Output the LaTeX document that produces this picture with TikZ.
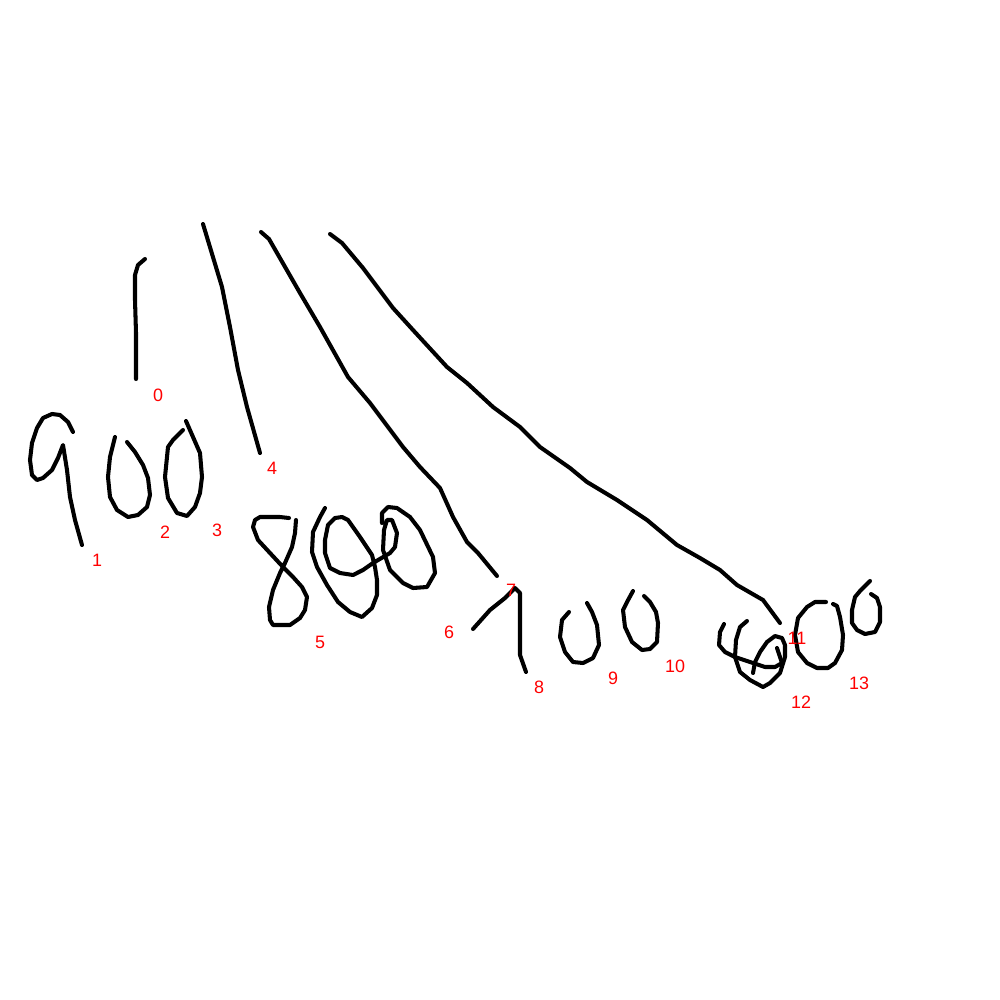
\documentclass[tikz,border=0pt]{standalone}
\usepackage{fontspec}
\setmainfont{Liberation Sans}
\begin{document}
\begin{tikzpicture}[x=0.01cm,y=-0.01cm,
  ink/.style={line width=1.15pt,line join=round,line cap=round,black},
  lbl/.style={text=red,font=\fontsize{5.1}{6}\selectfont,inner sep=0pt}]
\useasboundingbox[fill=white] (0,0) rectangle (1000,1000);
% stroke 0
\draw[ink] (145,259)--(138,265)--(135,275)--(135,300)--(136,333)--(136,379);
% 9
\draw[ink] (73,432)--(68,422)--(60,415)--(52,414)--(43,418)--(37,428)--(32,443)--(30,460)--(32,475)--(37,480)--(43,478)--(52,470)--(58,458)--(63,445)--(67,470)--(70,497)--(75,520)--(82,545);
% 0
\draw[ink] (115,437)--(110,457)--(108,477)--(110,497)--(117,510)--(128,517)--(138,515)--(147,507)--(150,495)--(148,478)--(143,465)--(135,452)--(127,442);
% 0
\draw[ink] (183,430)--(173,440)--(168,447)--(165,477)--(168,498)--(177,513)--(187,516)--(195,507)--(200,493)--(202,477)--(200,453)--(193,437)--(186,421);
% long stroke 4
\draw[ink] (203,224)--(222,287)--(230,327)--(238,370)--(247,407)--(260,453);
% long stroke to 7
\draw[ink] (261,232)--(269,239)--(300,293)--(320,327)--(348,377)--(370,403)--(403,447)--(420,467)--(440,488)--(453,517)--(467,542)--(478,553)--(497,576);
% long stroke to 11
\draw[ink] (330,234)--(342,243)--(363,268)--(393,308)--(413,330)--(447,367)--(467,383)--(493,407)--(520,427)--(540,447)--(570,468)--(587,482)--(617,500)--(647,520)--(677,545)--(700,558)--(720,570)--(737,585)--(763,600)--(780,623);
% 8
\draw[ink] (289,518)--(280,517)--(260,517)--(255,520)--(253,527)--(258,540)--(270,553)--(283,567)--(293,577)--(302,587)--(307,597)--(305,610)--(300,618)--(290,625)--(273,625)--(270,620)--(269,607)--(273,590)--(280,573)--(285,563)--(292,547)--(295,533)--(296,520);
% 00
\draw[ink] (325,508)--(320,517)--(313,532)--(312,552)--(317,567)--(327,585)--(338,602)--(350,612)--(362,617)--(372,608)--(377,595)--(377,580)--(375,567)--(372,555)--(360,537)--(348,520)--(342,517)--(335,518)--(328,525)--(325,540)--(325,553)--(330,568)--(340,573)--(353,575)--(363,570)--(373,563)--(390,553)--(395,547)--(397,533)--(392,520)--(387,520)--(384,530)--(383,550)--(390,570)--(403,583)--(413,588)--(427,587)--(435,573)--(433,557)--(420,530)--(410,517)--(397,508)--(388,507)--(382,513)--(382,523);
% 7
\draw[ink] (473,629)--(490,610)--(505,598)--(515,588)--(520,593)--(520,620)--(520,655)--(526,672);
% 0
\draw[ink] (569,612)--(562,620)--(560,637)--(565,652)--(573,662)--(583,663)--(593,658)--(599,645)--(597,625)--(592,612)--(587,603);
% 0
\draw[ink] (633,591)--(627,602)--(623,610)--(625,627)--(632,642)--(642,650)--(650,649)--(657,642)--(658,623)--(656,612)--(650,602)--(644,596);
% 6 strokes
\draw[ink] (724,624)--(720,632)--(719,645)--(725,652)--(735,657)--(750,662)--(765,667)--(775,667)--(782,663);
\draw[ink] (777,648)--(782,663);
\draw[ink] (747,621)--(740,627)--(736,640)--(735,657)--(740,672)--(750,680)--(763,687)--(770,683)--(780,673)--(785,657)--(785,645)--(782,638)--(775,636)--(767,642)--(760,652)--(755,662)--(753,673);
% 0
\draw[ink] (826,602)--(815,602)--(807,607)--(798,618)--(795,635)--(798,652)--(807,663)--(817,668)--(828,668)--(835,663)--(842,650)--(843,635)--(840,617)--(837,606)--(833,604);
% 0
\draw[ink] (870,581)--(860,591)--(855,597)--(852,610)--(852,623)--(857,630)--(865,634)--(875,632)--(880,622)--(880,607)--(877,598)--(871,594);
% labels
\node[lbl] (l0) at (158,395) {0};
\node[lbl] (l1) at (97,560) {1};
\node[lbl] (l2) at (165,532) {2};
\node[lbl] (l3) at (217,530) {3};
\node[lbl] (l4) at (272,468) {4};
\node[lbl] (l5) at (320,642) {5};
\node[lbl] (l6) at (449,632) {6};
\node[lbl] (l7) at (511,590) {7};
\node[lbl] (l8) at (539,687) {8};
\node[lbl] (l9) at (613,678) {9};
\node[lbl] (l10) at (675,666) {10};
\node[lbl] (l11) at (797,638) {11};
\node[lbl] (l12) at (801,702) {12};
\node[lbl] (l13) at (859,683) {13};
\end{tikzpicture}
\end{document}
